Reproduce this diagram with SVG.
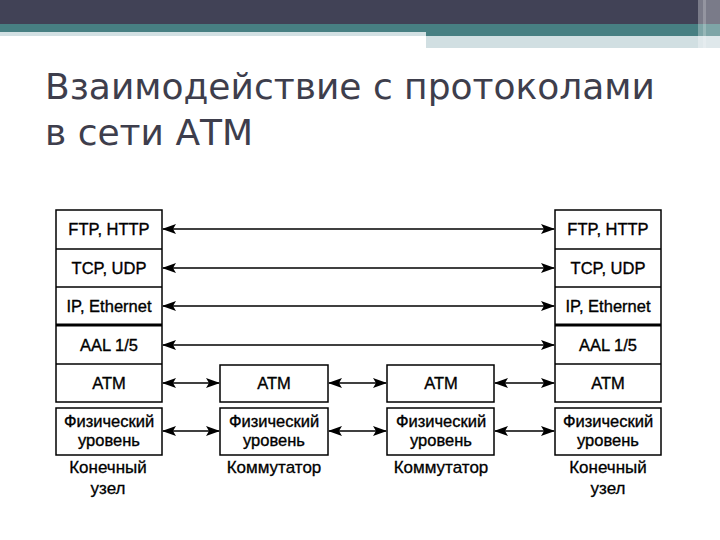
<svg xmlns="http://www.w3.org/2000/svg" width="720" height="540" viewBox="0 0 720 540">
<defs>
<style>
.box{fill:#fff;stroke:#000;stroke-width:1.5}
.div{stroke:#000;stroke-width:1.5}
.t{font-family:"Liberation Sans",Arial,sans-serif;font-size:16.5px;fill:#000;stroke:#000;stroke-width:0.35;text-anchor:middle}
.lab{font-family:"Liberation Sans",Arial,sans-serif;font-size:17px;fill:#000;stroke:#000;stroke-width:0.3;text-anchor:middle}
.ln{stroke:#000;stroke-width:1.3;fill:none;marker-start:url(#ah);marker-end:url(#ah)}
.title{font-family:"DejaVu Sans",sans-serif;font-size:36px;fill:#3e3e4c}
</style>
<marker id="ah" viewBox="0 0 14 10" refX="13" refY="5" markerWidth="14" markerHeight="10" markerUnits="userSpaceOnUse" orient="auto-start-reverse">
<path d="M0,0 L14,5 L0,10 L3,5 Z" fill="#000"/>
</marker>
</defs>
<rect width="720" height="540" fill="#fff"/>
<g id="header">
<rect x="0" y="0" width="720" height="24" fill="#414256"/>
<rect x="0" y="24" width="720" height="12" fill="#477f82"/>
<rect x="0" y="32" width="426" height="4" fill="#d2e0e3"/>
<rect x="426" y="36" width="294" height="12" fill="#d1dfe2"/>
<rect x="698" y="0" width="22" height="48" fill="#fff" opacity="0.3"/>
<rect x="703" y="0" width="3" height="48" fill="#fff" opacity="0.2"/>
</g>
<g id="title">
<text class="title" x="45" y="99">Взаимодействие с протоколами</text>
<text class="title" x="45" y="145">в сети АТМ</text>
</g>
<g id="connectors">
<line class="ln" x1="163" y1="229" x2="554" y2="229"/>
<line class="ln" x1="163" y1="268" x2="554" y2="268"/>
<line class="ln" x1="163" y1="306" x2="554" y2="306"/>
<line class="ln" x1="163" y1="345" x2="554" y2="345"/>
<line class="ln" x1="163" y1="383" x2="219" y2="383"/>
<line class="ln" x1="329" y1="383" x2="386" y2="383"/>
<line class="ln" x1="495" y1="383" x2="554" y2="383"/>
<line class="ln" x1="163" y1="431" x2="219" y2="431"/>
<line class="ln" x1="329" y1="431" x2="386" y2="431"/>
<line class="ln" x1="495" y1="431" x2="554" y2="431"/>
</g>
<g id="end-node-left">
<rect class="box" x="56" y="210" width="106" height="192"/>
<line class="div" x1="56" y1="249" x2="162" y2="249"/>
<line class="div" x1="56" y1="287" x2="162" y2="287"/>
<line x1="56" y1="325" x2="162" y2="325" stroke="#000" stroke-width="3"/>
<line class="div" x1="56" y1="364" x2="162" y2="364"/>
<text class="t" x="109" y="235">FTP, HTTP</text>
<text class="t" x="109" y="274">TCP, UDP</text>
<text class="t" x="109" y="312">IP, Ethernet</text>
<text class="t" x="109" y="351">AAL 1/5</text>
<text class="t" x="109" y="389">ATM</text>
<rect class="box" x="56" y="408" width="106" height="47"/>
<text class="t" x="109" y="427">Физический</text>
<text class="t" x="109" y="446">уровень</text>
<text class="lab" x="108" y="473">Конечный</text>
<text class="lab" x="108" y="494">узел</text>
</g>
<g id="switch-1">
<rect class="box" x="220" y="365" width="108" height="37"/>
<text class="t" x="274" y="389">ATM</text>
<rect class="box" x="220" y="408" width="108" height="47"/>
<text class="t" x="274" y="427">Физический</text>
<text class="t" x="274" y="446">уровень</text>
<text class="lab" x="274" y="473">Коммутатор</text>
</g>
<g id="switch-2">
<rect class="box" x="387" y="365" width="107" height="37"/>
<text class="t" x="441" y="389">ATM</text>
<rect class="box" x="387" y="408" width="107" height="47"/>
<text class="t" x="441" y="427">Физический</text>
<text class="t" x="441" y="446">уровень</text>
<text class="lab" x="441" y="473">Коммутатор</text>
</g>
<g id="end-node-right">
<rect class="box" x="555" y="210" width="106" height="192"/>
<line class="div" x1="555" y1="249" x2="661" y2="249"/>
<line class="div" x1="555" y1="287" x2="661" y2="287"/>
<line x1="555" y1="325" x2="661" y2="325" stroke="#000" stroke-width="3"/>
<line class="div" x1="555" y1="364" x2="661" y2="364"/>
<text class="t" x="608" y="235">FTP, HTTP</text>
<text class="t" x="608" y="274">TCP, UDP</text>
<text class="t" x="608" y="312">IP, Ethernet</text>
<text class="t" x="608" y="351">AAL 1/5</text>
<text class="t" x="608" y="389">ATM</text>
<rect class="box" x="555" y="408" width="106" height="47"/>
<text class="t" x="608" y="427">Физический</text>
<text class="t" x="608" y="446">уровень</text>
<text class="lab" x="608" y="473">Конечный</text>
<text class="lab" x="608" y="494">узел</text>
</g>
</svg>
